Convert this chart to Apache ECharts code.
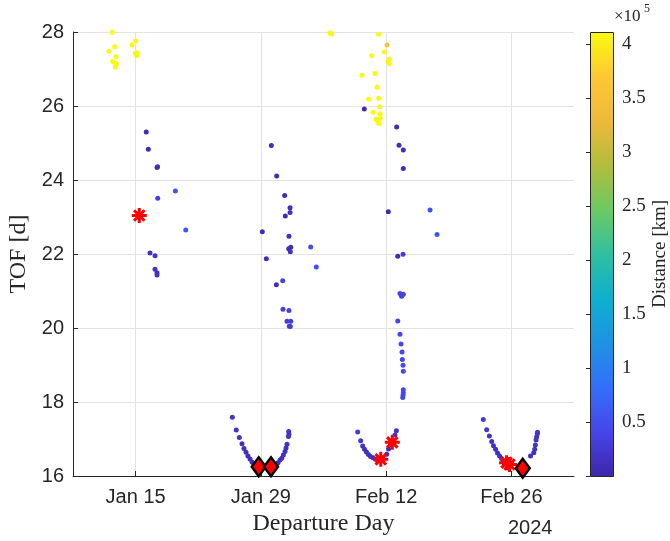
<!DOCTYPE html>
<html>
<head>
<meta charset="utf-8">
<script src="https://cdn.jsdelivr.net/npm/echarts@6/dist/echarts.min.js"></script>
<style>
  html, body { margin: 0; padding: 0; background: #ffffff; }
  #chart { width: 670px; height: 541px; }
</style>
</head>
<body>
<div id="chart"></div>
<script>
// Departure day is counted as day-of-January 2024 (Feb 1 = 32, Mar 1 = 61).
const tickDays = [15, 29, 43, 57];
const tickLabels = ['Jan 15', 'Jan 29', 'Feb 12', 'Feb 26'];
const yearLabel = '2024';
const tofTicks = [16, 18, 20, 22, 24, 26, 28];
const distMax = 411000;

// Transfer solutions around the Jan 15 window
const jan15Day = [12.39, 15.01, 14.60, 12.66, 12.02, 12.81, 14.96, 15.19, 15.12, 12.44, 12.84, 12.77, 12.73,
                  16.19, 16.42, 17.39, 17.45, 19.44, 17.47, 20.60, 16.61, 17.17, 17.17, 17.39, 17.39];
const jan15Tof = [27.99, 27.76, 27.65, 27.60, 27.48, 27.33, 27.42, 27.44, 27.36, 27.20, 27.15, 27.08, 27.05,
                  25.30, 24.83, 24.34, 24.36, 23.70, 23.51, 22.65, 22.03, 21.95, 21.59, 21.49, 21.43];
const jan15Dist = [410000, 409000, 408000, 410000, 411000, 409000, 410000, 408000, 411000, 410000, 409000, 411000, 410000,
                   8000, 9000, 12000, 12000, 55000, 35000, 60000, 15000, 20000, 18000, 16000, 17000];

// Jan 29 window
const jan29Day = [30.17, 30.77, 31.66, 32.26, 32.26, 31.73, 29.16, 32.14, 32.34, 32.11, 32.29, 34.57, 29.61, 35.20,
                  31.44, 30.73, 31.47, 32.14, 31.92, 32.34, 32.18, 32.29,
                  25.81, 26.25, 26.59, 26.89, 27.11, 27.34, 27.56, 27.79, 28.01, 28.23, 28.46,
                  30.36, 30.69, 30.92, 31.14, 31.33, 31.51, 31.70, 31.81, 31.92, 32.11, 32.14, 32.08,
                  36.73, 36.90];
const jan29Tof = [24.93, 24.11, 23.58, 23.25, 23.12, 23.03, 22.60, 22.48, 22.18, 22.14, 22.06, 22.19, 21.87, 21.65,
                  21.28, 21.17, 20.51, 20.47, 20.18, 20.18, 20.05, 20.04,
                  17.59, 17.24, 17.04, 16.87, 16.74, 16.64, 16.54, 16.46, 16.38, 16.31, 16.27,
                  16.27, 16.31, 16.36, 16.43, 16.48, 16.57, 16.66, 16.76, 16.86, 17.20, 17.13, 17.07,
                  27.97, 27.95];
const jan29Dist = [9000, 8000, 10000, 12000, 12000, 9000, 8000, 14000, 12000, 11000, 13000, 50000, 10000, 55000,
                   38000, 12000, 35000, 36000, 30000, 32000, 30000, 31000,
                   18000, 17000, 16000, 15000, 14000, 13000, 13000, 12000, 12000, 12000, 12000,
                   12000, 12000, 13000, 13000, 14000, 14000, 15000, 15000, 16000, 20000, 19000, 18000,
                   410000, 409000];

// Feb 12 window
const feb12Day = [42.17, 43.10, 42.80, 41.39, 43.36, 43.21, 43.36, 41.76, 40.31, 41.98, 42.17, 41.05, 42.28, 41.53,
                  42.32, 41.87, 42.35, 42.09, 42.24,
                  40.56, 44.18, 44.44, 44.92, 44.92, 43.24, 47.91, 48.69, 44.30, 44.89, 44.55, 44.78, 44.92,
                  44.72, 44.30, 44.55, 44.67, 44.78, 44.81, 44.89, 44.92, 44.92, 44.92, 44.89, 44.86,
                  39.82, 40.16, 40.38, 40.58, 40.80, 41.02, 41.25, 41.53, 41.81, 42.09, 42.65, 43.07, 43.27,
                  43.49, 43.99, 44.14];
const feb12Tof = [27.94, 27.65, 27.46, 27.36, 27.27, 27.21, 27.14, 26.88, 26.83, 26.51, 26.21, 26.18, 25.98, 25.83,
                  25.79, 25.64, 25.66, 25.55, 25.53,
                  25.92, 25.43, 24.94, 24.81, 24.31, 23.14, 23.19, 22.53, 21.94, 21.99, 20.93, 20.88, 20.91,
                  20.86, 20.19, 19.83, 19.57, 19.35, 19.15, 18.99, 18.83, 18.33, 18.25, 18.19, 18.12,
                  17.19, 16.95, 16.81, 16.72, 16.65, 16.58, 16.53, 16.49, 16.45, 16.42, 16.42, 16.59, 16.73,
                  16.84, 17.11, 17.22];
const feb12Dist = [410000, 362000, 409000, 410000, 408000, 409000, 410000, 411000, 409000, 410000, 408000, 410000, 409000, 411000,
                   410000, 409000, 408000, 410000, 409000,
                   8000, 8000, 9000, 10000, 11000, 7000, 55000, 57000, 9000, 30000, 38000, 37000, 38000,
                   36000, 40000, 42000, 42000, 43000, 43000, 44000, 44000, 45000, 45000, 44000, 44000,
                   30000, 22000, 18000, 16000, 15000, 14000, 13000, 12000, 12000, 12000, 12000, 13000, 14000,
                   15000, 17000, 18000];

// Feb 26 window
const feb26Day = [53.86, 54.24, 54.54, 54.80, 55.00, 55.23, 55.45, 55.68, 55.90, 56.10, 56.35,
                  59.14, 59.50, 59.61, 59.68, 59.76, 59.83, 59.90, 59.92];
const feb26Tof = [17.53, 17.25, 17.08, 16.93, 16.82, 16.72, 16.62, 16.54, 16.47, 16.42, 16.36,
                  16.54, 16.63, 16.72, 16.84, 16.97, 17.06, 17.14, 17.18];
const feb26Dist = [28000, 22000, 19000, 17000, 16000, 15000, 14000, 13000, 13000, 12000, 12000,
                   14000, 15000, 16000, 17000, 18000, 19000, 20000, 21000];

// Highlighted solutions
const starDay = [15.41, 42.40, 43.69, 56.46, 56.79];
const starTof = [23.04, 16.45, 16.91, 16.36, 16.31];
const diamondDay = [28.76, 30.13, 58.27];
const diamondTof = [16.25, 16.25, 16.21];

// parula colormap, evenly spaced stops from low to high
const parula = ['#3e26a8', '#4745e9', '#336ffa', '#1e92e4', '#0cb0cf', '#2fbfa0',
                '#6cc964', '#b2bd3c', '#eeb93a', '#fdc833', '#f9fb0e'];

function zip3(d, t, s) { return d.map((v, i) => [v, t[i], s[i]]); }
function zip2(d, t) { return d.map((v, i) => [v, t[i]]); }

const dots = [].concat(
  zip3(jan15Day, jan15Tof, jan15Dist),
  zip3(jan29Day, jan29Tof, jan29Dist),
  zip3(feb12Day, feb12Tof, feb12Dist),
  zip3(feb26Day, feb26Tof, feb26Dist)
);

const ink = '#262626';
const sans = 'Liberation Sans';
const serif = 'Liberation Serif';

const chart = echarts.init(document.getElementById('chart'), null, { renderer: 'canvas' });

chart.setOption({
  animation: false,
  backgroundColor: '#ffffff',
  title: [
    { text: yearLabel, left: 508, top: 518, padding: 0,
      textStyle: { fontFamily: sans, fontSize: 20, fontWeight: 'normal', color: ink } },
    { text: '×10', left: 614, top: 8, padding: 0,
      textStyle: { fontFamily: serif, fontSize: 17, fontWeight: 'normal', color: ink } },
    { text: '5', left: 644, top: 3, padding: 0,
      textStyle: { fontFamily: serif, fontSize: 12, fontWeight: 'normal', color: ink } }
  ],
  grid: [
    { left: 73, right: 96, top: 32, bottom: 65, outerBoundsMode: 'none' },
    { left: 590, width: 23, top: 32, height: 444, outerBoundsMode: 'none' }
  ],
  xAxis: [
    {
      type: 'value', gridIndex: 0, min: 8, max: 64,
      name: 'Departure Day', nameLocation: 'middle', nameGap: 36,
      nameTextStyle: { fontFamily: serif, fontSize: 24, color: ink },
      axisLine: { show: true, lineStyle: { color: ink, width: 1 } },
      axisTick: { show: true, inside: true, length: 5, customValues: tickDays, lineStyle: { color: ink } },
      axisLabel: {
        customValues: tickDays, margin: 11,
        fontFamily: sans, fontSize: 20, color: ink,
        formatter: v => tickLabels[tickDays.indexOf(v)] || ''
      },
      splitLine: { show: true, lineStyle: { color: '#e3e3e3', width: 1 } }
    },
    { type: 'value', gridIndex: 1, min: 0, max: 1, show: false }
  ],
  yAxis: [
    {
      type: 'value', gridIndex: 0, min: 16, max: 28, interval: 2,
      name: 'TOF [d]', nameLocation: 'middle', nameGap: 39,
      nameTextStyle: { fontFamily: serif, fontSize: 24, color: ink },
      axisLine: { show: true, lineStyle: { color: ink, width: 1 } },
      axisTick: { show: true, inside: true, length: 5, lineStyle: { color: ink } },
      axisLabel: { margin: 9, fontFamily: sans, fontSize: 20, color: ink,
                   formatter: v => (tofTicks.indexOf(v) >= 0 ? String(v) : '') },
      splitLine: { show: true, lineStyle: { color: '#e3e3e3', width: 1 } }
    },
    {
      type: 'value', gridIndex: 1, min: 0, max: distMax, interval: 50000, position: 'right', z: 5,
      name: 'Distance [km]', nameLocation: 'middle', nameGap: 38,
      nameTextStyle: { fontFamily: serif, fontSize: 19, color: ink },
      axisLine: { show: false },
      axisTick: { show: true, inside: true, length: 4, lineStyle: { color: ink } },
      axisLabel: { margin: 9, fontFamily: serif, fontSize: 19, color: ink,
                   formatter: v => (v === 0 ? '' : String(v / 1e5)) },
      splitLine: { show: false }
    }
  ],
  visualMap: {
    type: 'continuous', show: false, min: 0, max: distMax, dimension: 2, seriesIndex: 0,
    inRange: { color: parula }
  },
  graphic: [
    {
      type: 'rect', left: 590, top: 32, z: 1,
      shape: { width: 23, height: 444 },
      style: {
        fill: new echarts.graphic.LinearGradient(0, 1, 0, 0,
          parula.map((c, i) => ({ offset: i / (parula.length - 1), color: c }))),
        stroke: ink, lineWidth: 1
      }
    }
  ],
  series: [
    {
      type: 'scatter', xAxisIndex: 0, yAxisIndex: 0,
      symbol: 'circle', symbolSize: 5,
      itemStyle: { opacity: 1 },
      data: dots
    },
    {
      type: 'scatter', xAxisIndex: 0, yAxisIndex: 0, clip: false, z: 3,
      symbol: 'path://M5,0L5,10M0,5L10,5M1.5,1.5L8.5,8.5M1.5,8.5L8.5,1.5',
      symbolSize: 15,
      itemStyle: { color: 'rgba(0,0,0,0)', borderColor: '#ff0000', borderWidth: 3, opacity: 1 },
      data: zip2(starDay, starTof)
    },
    {
      type: 'scatter', xAxisIndex: 0, yAxisIndex: 0, clip: false, z: 4,
      symbol: 'diamond', symbolSize: [14, 19],
      itemStyle: { color: '#ff0000', borderColor: '#000000', borderWidth: 2.5, opacity: 1 },
      data: zip2(diamondDay, diamondTof)
    }
  ]
});
</script>
</body>
</html>
